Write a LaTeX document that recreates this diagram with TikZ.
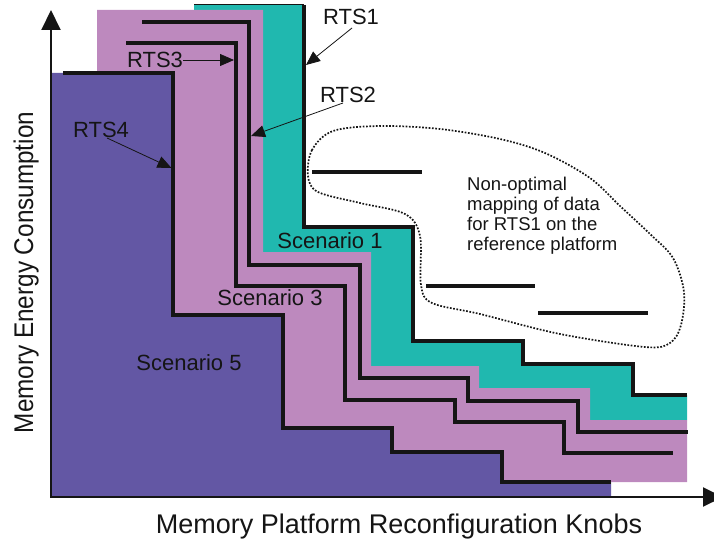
\documentclass[tikz,border=0pt]{standalone}
\usepackage{fontspec}
\setmainfont{Liberation Sans}
\usetikzlibrary{arrows.meta}
\definecolor{scnfive}{HTML}{6357A4}
\definecolor{scnthree}{HTML}{BD89BE}
\definecolor{scnone}{HTML}{20B8AF}
\definecolor{ink}{HTML}{151515}
\begin{document}
\begin{tikzpicture}[x=1pt,y=-1pt,
  knob/.style={line width=3.2pt, draw=ink},
  pointer/.style={line width=0.8pt, draw=ink, -{Triangle[length=14pt,width=12pt]}},
  axisline/.style={line width=2pt, draw=ink, -{Triangle[length=20pt,width=19pt]}},
  tag/.style={font=\fontsize{22}{26}\selectfont, text=ink, inner sep=0pt},
  note/.style={font=\fontsize{18.5}{20}\selectfont, text=ink, inner sep=0pt, align=left},
  axislabel/.style={text=ink, inner sep=0pt},
  ]
\useasboundingbox (0,0) rectangle (714,540);

% scenario areas
\fill[scnone] (194,5) -- (304,5) -- (304,227) -- (413,227) -- (413,341) -- (523,341)
  -- (523,364) -- (633,364) -- (633,395) -- (687,395) -- (687,420) -- (194,420) -- cycle;
\fill[scnthree] (97,10) -- (263,10) -- (263,252) -- (371,252) -- (371,366) -- (479,366)
  -- (479,388) -- (590,388) -- (590,420) -- (687,420) -- (687,482) -- (610,482)
  -- (610,497) -- (97,497) -- cycle;
\fill[scnfive] (50,73) -- (173,73) -- (173,315) -- (283,315) -- (283,428) -- (392,428)
  -- (392,452) -- (502,452) -- (502,482) -- (611,482) -- (611,497) -- (50,497) -- cycle;

% axes
\coordinate (origin) at (51,497);
\coordinate (ytop) at (51,10);
\coordinate (xend) at (723,497);
\draw[axisline] (origin) -- (ytop);
\draw[axisline] ([xshift=-1pt]origin) -- (xend);

% run-time situation curves
\draw[ink, line width=1pt] (194,5) -- (304,5);
\draw[knob] (304,5) -- (304,227) -- (413,227) -- (413,341) -- (523,341) -- (523,364)
  -- (633,364) -- (633,395) -- (687,395);
\draw[knob] (142,22) -- (249,22) -- (249,265) -- (360,265) -- (360,378) -- (468,378)
  -- (468,401) -- (578,401) -- (578,432) -- (688,432);
\draw[knob] (126,43) -- (236,43) -- (236,286) -- (345,286) -- (345,400) -- (455,400)
  -- (455,422) -- (564,422) -- (564,453) -- (673,453);
\draw[knob] (63,73) -- (173,73) -- (173,315) -- (283,315) -- (283,428) -- (392,428)
  -- (392,452) -- (502,452) -- (502,482) -- (611,482);

% non-optimal mapping points
\draw[knob] (312,172) -- (422,172);
\draw[knob] (426,286) -- (535,286);
\draw[knob] (538,313) -- (648,313);

% region enclosing the non-optimal points
\draw[ink, line width=1.7pt, dash pattern=on 1.7pt off 1.6pt]
  plot[smooth cycle, tension=0.55] coordinates {
    (333,131) (312,150) (308,176) (318,192) (360,203) (405,214) (420,236)
    (421,285) (432,303) (480,314) (560,334) (645,347) (670,343) (681,325)
    (684,292) (673,258) (650,234) (620,206) (590,178) (545,153) (500,139)
    (440,129) (380,126)};

% labels
\node[tag] (rts1) at (351,17) {RTS1};
\node[tag] (rts2) at (348,95) {RTS2};
\node[tag] (rts3) at (155,60) {RTS3};
\node[tag] (rts4) at (101,130) {RTS4};
\node[tag] (scn1) at (330,241) {Scenario 1};
\node[tag] (scn3) at (270,298) {Scenario 3};
\node[tag] (scn5) at (189,363) {Scenario 5};
\node[note, anchor=north west] (remark) at (467,177)
  {Non-optimal\\mapping of data\\for RTS1 on the\\reference platform};

% pointers from the labels to their curves
\coordinate (tip1) at (306,65);
\coordinate (tip2) at (251,136);
\coordinate (tip3) at (234,60);
\coordinate (tip4) at (171.5,168);
\draw[pointer] ([xshift=1pt,yshift=-3pt]rts1.south) -- (tip1);
\draw[pointer] ([xshift=-5pt,yshift=0pt]rts2.south) -- (tip2);
\draw[pointer] (rts3.east) -- (tip3);
\draw[pointer] ([xshift=6pt]rts4.south) -- (tip4);

% axis titles
\node[axislabel, anchor=base, font=\fontsize{27}{30}\selectfont] (xlabel) at (399,533)
  {Memory Platform Reconfiguration Knobs};
\node[axislabel, anchor=base, rotate=90, xscale=0.9, font=\fontsize{27}{30}\selectfont]
  (ylabel) at (33,272.5) {Memory Energy Consumption};
\end{tikzpicture}
\end{document}
